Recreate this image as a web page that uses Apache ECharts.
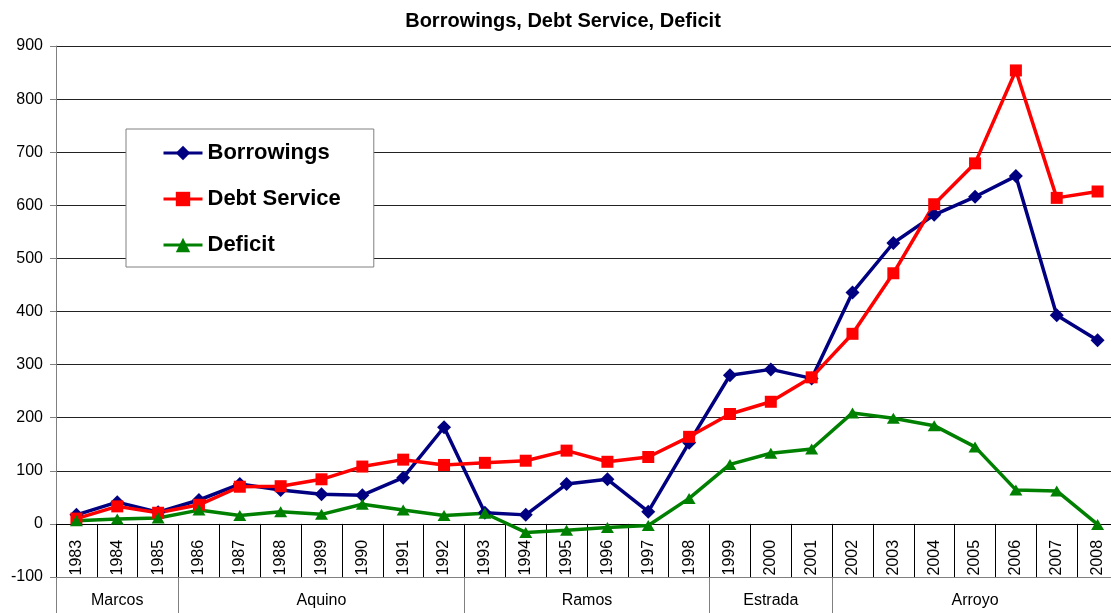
<!DOCTYPE html>
<html>
<head>
<meta charset="utf-8">
<script src="https://cdn.jsdelivr.net/npm/echarts@6/dist/echarts.min.js"></script>
<style>
html,body{margin:0;padding:0;background:#fff;}
#chart{width:1111px;height:613px;}
</style>
</head>
<body>
<div id="chart"></div>
<script>
const years = ['1983','1984','1985','1986','1987','1988','1989','1990','1991','1992','1993','1994','1995','1996','1997','1998','1999','2000','2001','2002','2003','2004','2005','2006','2007','2008'];
const borrowings = [17, 41, 22, 45, 75, 64, 56, 54, 87, 182, 21, 17, 75, 84, 23, 153, 280, 291, 274, 436, 529, 582, 616, 655, 393, 346];
const debtService = [10, 33, 21, 36, 70, 71, 84, 108, 121, 111, 115, 119, 138, 117, 126, 164, 207, 230, 276, 358, 472, 602, 679, 854, 614, 626];
const deficit = [6, 9, 11, 26, 16, 23, 18, 37, 26, 16, 20, -16, -12, -7, -3, 48, 112, 133, 141, 209, 199, 185, 145, 64, 62, -1];
const presidents = ['Marcos', 'Aquino', 'Ramos', 'Estrada', 'Arroyo'];
const presidentYearCounts = [3, 7, 6, 3, 7];
const yTicks = {min: -100, max: 900, interval: 100};

const boundaries = [0];
const mids = [];
presidentYearCounts.forEach(function (n) {
  const start = boundaries[boundaries.length - 1];
  mids.push(start + n / 2);
  boundaries.push(start + n);
});

const GRID_TOP = 46, GRID_BOTTOM = 36, H = 613;
const gridHeight = H - GRID_TOP - GRID_BOTTOM;
const zeroOffset = -gridHeight * (0 - yTicks.min) / (yTicks.max - yTicks.min);

const FONT = '"Liberation Sans", Arial, sans-serif';
const chart = echarts.init(document.getElementById('chart'));
chart.setOption({
  animation: false,
  backgroundColor: '#fff',
  textStyle: {fontFamily: FONT},
  title: {
    text: 'Borrowings, Debt Service, Deficit',
    left: 563, top: 11, padding: 0, textAlign: 'center',
    textStyle: {fontSize: 20, fontWeight: 'bold', color: '#000', fontFamily: FONT}
  },
  legend: {
    orient: 'vertical',
    left: 126, top: 129,
    padding: [13, 33, 11, 36],
    itemWidth: 39, itemHeight: 18, itemGap: 24,
    backgroundColor: '#fff',
    borderColor: '#808080', borderWidth: 1, borderRadius: 0,
    lineStyle: {width: 3},
    textStyle: {fontSize: 22, fontWeight: 'bold', color: '#000', lineHeight: 22, fontFamily: FONT},
    data: ['Borrowings', 'Debt Service', 'Deficit']
  },
  grid: {left: 56, top: GRID_TOP, bottom: GRID_BOTTOM, width: 1062, containLabel: false, outerBoundsMode: 'none'},
  xAxis: [{
    type: 'category',
    data: years,
    position: 'bottom',
    offset: zeroOffset,
    boundaryGap: true,
    axisLine: {onZero: false, lineStyle: {color: '#000', width: 1}},
    axisTick: {show: true, interval: 0, length: -zeroOffset, lineStyle: {color: '#000'}},
    axisLabel: {interval: 0, rotate: 90, margin: 16, fontSize: 16, color: '#000', fontFamily: FONT, hideOverlap: false},
    splitLine: {show: false}
  }, {
    type: 'value',
    position: 'bottom',
    min: 0, max: years.length,
    axisLine: {show: true, onZero: false, lineStyle: {color: '#808080', width: 1}},
    axisTick: {show: true, length: 40, customValues: boundaries, lineStyle: {color: '#808080'}},
    axisLabel: {
      show: true, margin: 16, fontSize: 16, color: '#000', fontFamily: FONT,
      customValues: mids,
      formatter: function (v) { const i = mids.indexOf(v); return i >= 0 ? presidents[i] : ''; }
    },
    splitLine: {show: false}
  }],
  yAxis: {
    type: 'value',
    min: yTicks.min, max: yTicks.max, interval: yTicks.interval,
    axisLine: {show: true, onZero: false, lineStyle: {color: '#808080', width: 1}},
    axisTick: {show: true, length: 6, lineStyle: {color: '#808080'}},
    axisLabel: {fontSize: 16, color: '#000', margin: 13, fontFamily: FONT},
    splitLine: {show: true, lineStyle: {color: '#222', width: 1}}
  },
  series: [{
    name: 'Borrowings', type: 'line', data: borrowings,
    symbol: 'diamond', symbolSize: 14,
    lineStyle: {color: '#000080', width: 3.5},
    itemStyle: {color: '#000080'}
  }, {
    name: 'Debt Service', type: 'line', data: debtService,
    symbol: 'rect', symbolSize: 12,
    lineStyle: {color: '#FF0000', width: 3.5},
    itemStyle: {color: '#FF0000'}
  }, {
    name: 'Deficit', type: 'line', data: deficit,
    symbol: 'triangle', symbolSize: [13, 11],
    lineStyle: {color: '#008000', width: 3.5},
    itemStyle: {color: '#008000'}
  }]
});
</script>
</body>
</html>
